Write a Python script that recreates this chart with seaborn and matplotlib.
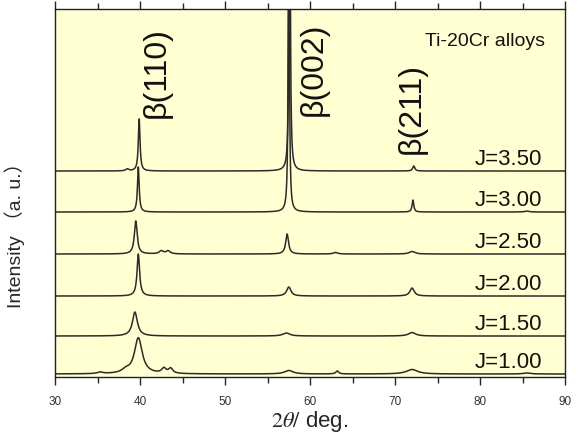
import numpy as np
import pandas as pd
import matplotlib
matplotlib.use("Agg")
import matplotlib.pyplot as plt
import seaborn as sns

# XRD patterns of Ti-20Cr alloys, stacked by J value
j_labels = ["J=1.00", "J=1.50", "J=2.00", "J=2.50", "J=3.00", "J=3.50"]
offsets = [3, 41, 81, 123, 165, 206]

# peaks: (2theta, height, half width)
peaks_100 = [(39.8, 36, 0.55), (42.8, 5, 0.3), (43.6, 5, 0.3), (38.3, 3, 0.5),
             (35.3, 1.5, 0.4), (57.5, 3.5, 0.6), (63.2, 3, 0.2), (72.0, 4.5, 0.8),
             (85.5, 1, 0.5)]
peaks_150 = [(39.4, 24, 0.35), (57.2, 3, 0.5), (72.0, 3.5, 0.5)]
peaks_200 = [(39.8, 42, 0.18), (57.5, 9, 0.3), (72.0, 8, 0.3)]
peaks_250 = [(39.5, 33, 0.2), (42.5, 3, 0.3), (43.3, 3, 0.3), (57.3, 20, 0.2),
             (63.0, 1.5, 0.3), (72.0, 2.5, 0.4)]
peaks_300 = [(39.8, 45, 0.12), (57.5, 400, 0.07), (72.1, 12, 0.12), (85.5, 1, 0.3)]
peaks_350 = [(39.9, 52, 0.12), (38.5, 2, 0.2), (57.6, 500, 0.07), (72.2, 5, 0.15)]
all_peaks = [peaks_100, peaks_150, peaks_200, peaks_250, peaks_300, peaks_350]

peak_names = ["β(110)", "β(002)", "β(211)"]
peak_label_x = [42.0, 60.4, 72.0]
peak_label_y = [305, 309, 270]

two_theta = np.linspace(30, 90, 3001)

rows = []
for lab, off, pk in zip(j_labels, offsets, all_peaks):
    y = np.full_like(two_theta, float(off))
    for x0, h, w in pk:
        y += h * w**2 / ((two_theta - x0)**2 + w**2)
    rows.append(pd.DataFrame({"two_theta": two_theta, "intensity": y, "sample": lab}))
df = pd.concat(rows, ignore_index=True)

sns.set_theme(style="ticks")
plt.rcParams["font.family"] = ["Liberation Sans", "Noto Sans CJK JP", "DejaVu Sans"]
plt.rcParams["mathtext.fontset"] = "stix"

fig = plt.figure(figsize=(5.79, 4.35), dpi=100)
ax = fig.add_axes([0.095, 0.131, 0.881, 0.846])
ax.set_facecolor("#ffffd2")

sns.lineplot(data=df, x="two_theta", y="intensity", hue="sample",
             palette=["#2b2b2b"] * len(j_labels), linewidth=1.1,
             legend=False, ax=ax, estimator=None)

ax.set_xlim(30, 90)
ax.set_ylim(0, 368)
ax.set_xticks(np.arange(30, 91, 10))
ax.set_xticks(np.arange(35, 90, 10), minor=True)
ax.set_yticks([])
ax.tick_params(axis="x", which="both", direction="out", top=True, labelsize=8.5,
               labelcolor="#333333", pad=7, width=1.0)
ax.tick_params(axis="x", which="major", length=6)
ax.tick_params(axis="x", which="minor", length=4)
for s in ax.spines.values():
    s.set_color("#222222")
    s.set_linewidth(1.0)

for lab, off in zip(j_labels, offsets):
    ax.text(87.3, off + 13, lab, ha="right", va="center", fontsize=16, color="#111111")

for name, px, py in zip(peak_names, peak_label_x, peak_label_y):
    ax.text(px, py, name, rotation=90, ha="center", va="center", fontsize=23,
            color="#111111")

ax.text(87.6, 337, "Ti-20Cr alloys", ha="right", va="center", fontsize=14,
        color="#111111")

ax.set_xlabel(r"$2\theta /$ deg.", fontsize=16, labelpad=1)
ax.set_ylabel("Intensity （a. u.）", fontsize=14)
ax.yaxis.set_label_coords(-0.059, 0.40)

fig.savefig("out.png", dpi=100)
